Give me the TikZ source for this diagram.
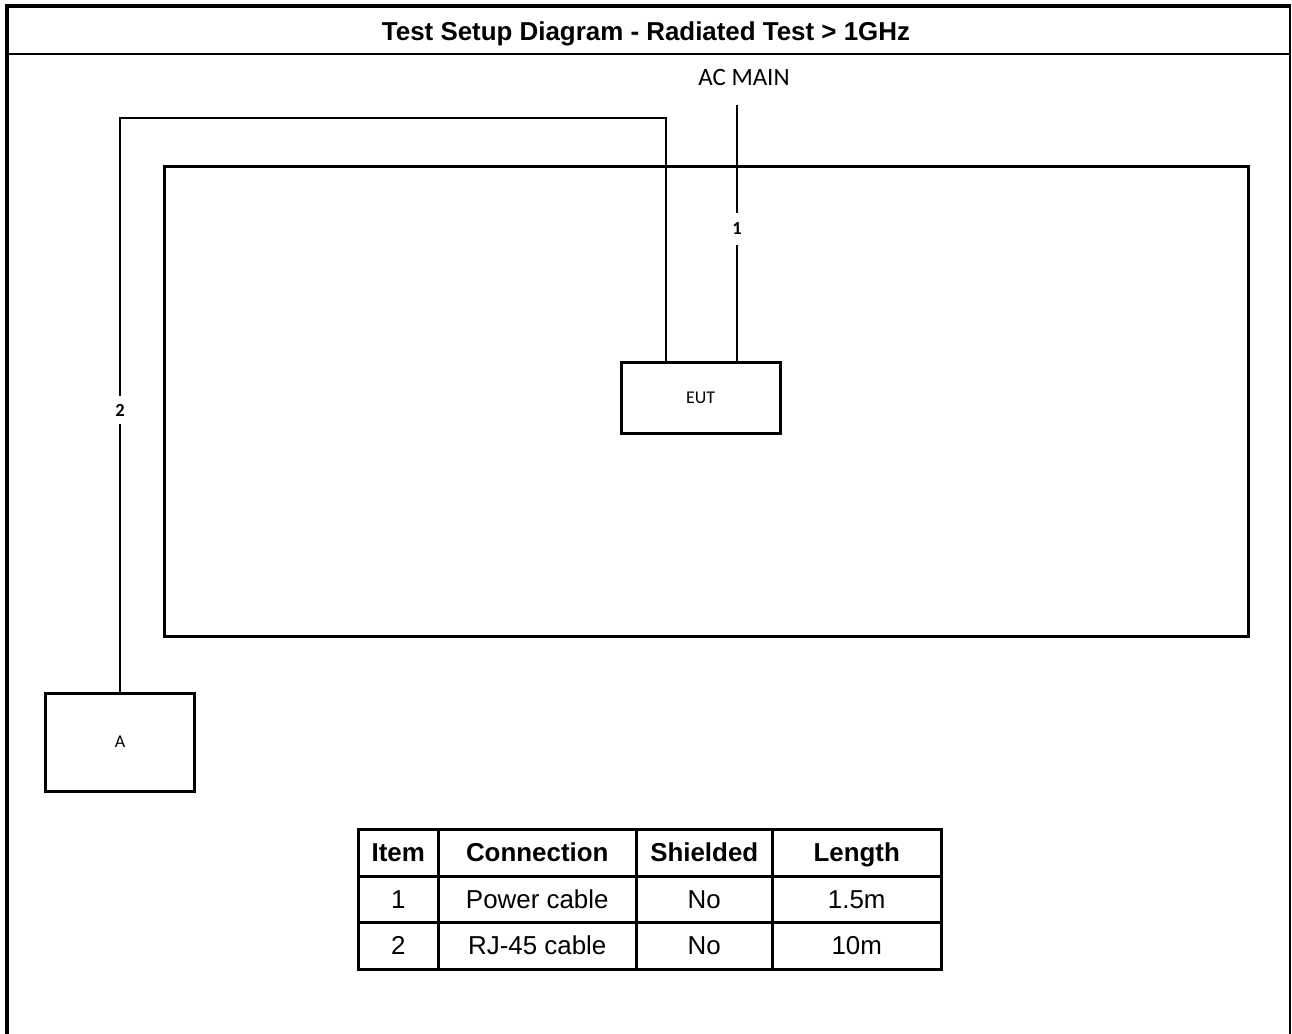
\documentclass[tikz,border=0pt]{standalone}
\usepackage{fontspec}
\setmainfont{Liberation Sans}
\newfontfamily\calfont{Carlito}
\begin{document}
\begin{tikzpicture}[x=1bp,y=-1bp,
  frame/.style={line width=3.5bp},
  thinframe/.style={line width=2bp},
  cable/.style={line width=2bp},
  box/.style={draw,line width=3bp,inner sep=0pt,font=\calfont\fontsize{18}{20}\selectfont},
  cablelabel/.style={fill=white,inner sep=0pt,minimum width=14bp,font=\calfont\bfseries\fontsize{18.5}{20}\selectfont},
  cell/.style={draw,line width=2.5bp,inner sep=0pt,anchor=north west,minimum height=#1,text height=19bp,text depth=1.5bp,font=\fontsize{26}{30}\selectfont},
  hcell/.style={cell=#1,font=\bfseries\fontsize{26}{30}\selectfont}
]
\useasboundingbox (0,0) rectangle (1292,1034);
% outer frame
\draw[thinframe] (1290,6) -- (1290,1034);
\draw[frame] (7,1034) -- (7,6) -- (1291,6);
\draw[thinframe] (7,54) -- (1290,54);
\node[anchor=base] (title) at (646,40) {\bfseries\fontsize{26}{30}\selectfont Test Setup Diagram - Radiated Test > 1GHz};
% test area
\draw[line width=3bp] (164,166) rectangle (1248,636);
% boxes
\node[box,minimum width=159bp,minimum height=71bp] (EUT) at (700.5,397.5) {EUT};
\node[box,minimum width=148bp,minimum height=98bp] (A) at (120,742) {A};
\node[anchor=base,font=\calfont\fontsize{25}{28}\selectfont] (ac) at (744,85) {AC MAIN};
% cable 1
\coordinate (c1top) at (737,105);
\draw[cable] (c1top) -- (EUT.north -| c1top);
\node[cablelabel,minimum height=32bp] (l1) at (737,229) {1};
% cable 2
\coordinate (c2a) at (666,118);
\coordinate (c2b) at (120,118);
\draw[cable] (EUT.north -| c2a) -- (c2a) -- (c2b) -- (A.north);
\node[cablelabel,minimum height=28bp] (l2) at (120,410) {2};
% table
\node[hcell=47bp,minimum width=80bp] (h1) at (357,828) {Item};
\node[hcell=47bp,minimum width=198bp] (h2) at (437,828) {Connection};
\node[hcell=47bp,minimum width=136bp] (h3) at (635,828) {Shielded};
\node[hcell=47bp,minimum width=169bp] (h4) at (771,828) {Length};
\node[cell=46bp,minimum width=80bp] (a1) at (357,875) {1};
\node[cell=46bp,minimum width=198bp] (a2) at (437,875) {Power cable};
\node[cell=46bp,minimum width=136bp] (a3) at (635,875) {No};
\node[cell=46bp,minimum width=169bp] (a4) at (771,875) {1.5m};
\node[cell=47bp,minimum width=80bp] (b1) at (357,921) {2};
\node[cell=47bp,minimum width=198bp] (b2) at (437,921) {RJ-45 cable};
\node[cell=47bp,minimum width=136bp] (b3) at (635,921) {No};
\node[cell=47bp,minimum width=169bp] (b4) at (771,921) {10m};
\end{tikzpicture}
\end{document}
